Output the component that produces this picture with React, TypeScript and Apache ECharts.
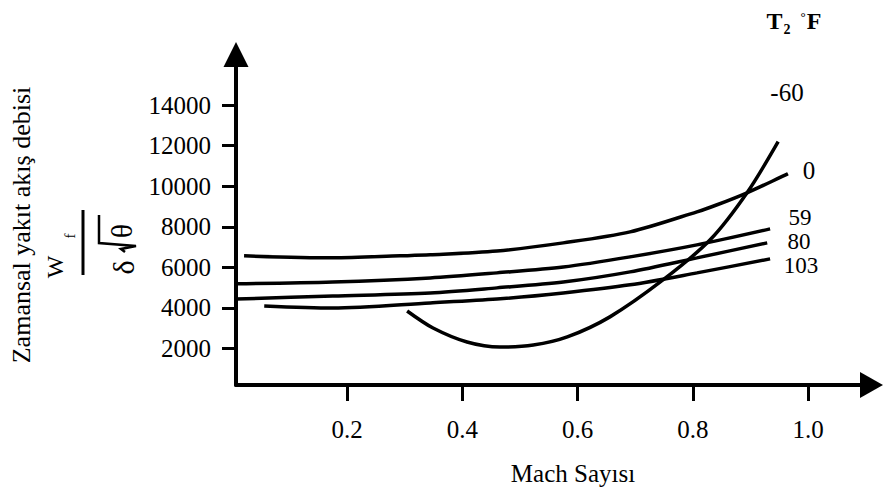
import React, { useEffect, useRef } from "react";
import * as echarts from "echarts";

const FONT = "Liberation Serif, Times New Roman, serif";

const xTicks = [0.2, 0.4, 0.6, 0.8, 1.0];
const yTicks = [2000, 4000, 6000, 8000, 10000, 12000, 14000];

const seriesNames = ["-60", "0", "59", "80", "103"];

const machM60 = [0.304, 0.349, 0.408, 0.465, 0.523, 0.582, 0.656, 0.748, 0.83, 0.894, 0.948];
const flowM60 = [3850, 3010, 2320, 2070, 2170, 2570, 3560, 5380, 7360, 9680, 12200];

const mach0 = [0.021, 0.175, 0.292, 0.344, 0.46, 0.575, 0.691, 0.807, 0.842, 0.894, 0.965];
const flow0 = [6570, 6470, 6570, 6620, 6810, 7210, 7750, 8740, 9090, 9680, 10620];

const mach59 = [0.007, 0.175, 0.344, 0.46, 0.575, 0.691, 0.807, 0.934];
const flow59 = [5190, 5280, 5480, 5730, 6020, 6520, 7110, 7900];

const mach80 = [0.007, 0.175, 0.344, 0.46, 0.575, 0.691, 0.807, 0.929];
const flow80 = [4440, 4590, 4740, 4990, 5280, 5780, 6470, 7210];

const mach103 = [0.056, 0.175, 0.344, 0.46, 0.575, 0.691, 0.807, 0.934];
const flow103 = [4100, 4000, 4250, 4440, 4740, 5140, 5730, 6420];

const curves = [
  [machM60, flowM60],
  [mach0, flow0],
  [mach59, flow59],
  [mach80, flow80],
  [mach103, flow103],
];

const curveLabelPos = [
  [787, 92],
  [809, 170],
  [800, 217],
  [799, 241],
  [801, 265],
];
const curveLabelSize = [25, 25, 23, 23, 23];

function zip(a: number[], b: number[]) {
  return a.map((v, i) => [v, b[i]]);
}

export default function App() {
  const ref = useRef<HTMLDivElement>(null);
  useEffect(() => {
    if (!ref.current) return;
    const chart = echarts.init(ref.current, undefined, { renderer: "svg" });
    const txt = (text: string, x: number, y: number, size: number, extra: any = {}) => {
      const { style, ...rest } = extra;
      return {
        type: "text",
        x,
        y,
        silent: true,
        ...rest,
        style: {
          text,
          fill: "#000",
          fontFamily: FONT,
          fontSize: size,
          align: "center",
          verticalAlign: "middle",
          ...(style || {}),
        },
      };
    };
    const option: any = {
      animation: false,
      backgroundColor: "#fff",
      grid: { left: 236, right: 11.5, top: 54.5, bottom: 108, containLabel: false, outerBoundsMode: "none" },
      xAxis: {
        type: "value",
        min: 0.007,
        max: 1.11,
        axisLine: {
          show: true,
          onZero: false,
          symbol: ["none", "triangle"],
          symbolSize: [26, 23],
          lineStyle: { color: "#000", width: 4 },
        },
        axisTick: {
          show: true,
          inside: false,
          length: 16,
          customValues: xTicks,
          lineStyle: { color: "#000", width: 3 },
        },
        axisLabel: {
          customValues: xTicks,
          formatter: (v: number) => v.toFixed(1),
          color: "#000",
          fontFamily: FONT,
          fontSize: 25,
          lineHeight: 25,
          margin: 32,
        },
        splitLine: { show: false },
      },
      yAxis: {
        type: "value",
        min: 200,
        max: 16500,
        axisLine: {
          show: true,
          onZero: false,
          symbol: ["none", "triangle"],
          symbolSize: [25, 25],
          lineStyle: { color: "#000", width: 4 },
        },
        axisTick: {
          show: true,
          inside: false,
          length: 14,
          customValues: yTicks,
          lineStyle: { color: "#000", width: 3 },
        },
        axisLabel: {
          customValues: yTicks,
          formatter: (v: number) => String(v),
          color: "#000",
          fontFamily: FONT,
          fontSize: 25,
          margin: 25,
        },
        splitLine: { show: false },
      },
      series: curves.map((c, i) => ({
        name: seriesNames[i],
        type: "line",
        data: zip(c[0], c[1]),
        showSymbol: false,
        smooth: 0.3,
        silent: true,
        lineStyle: { color: "#000", width: 3.5 },
      })),
      graphic: [
        txt("Zamansal yakıt akış debisi", 21, 225, 26, { rotation: Math.PI / 2 }),
        txt("Mach Sayısı", 573, 473, 25),
        {
          type: "group",
          x: 83,
          y: 243,
          rotation: Math.PI / 2,
          silent: true,
          children: [
            { type: "line", shape: { x1: -32, y1: 0, x2: 33, y2: 0 }, style: { stroke: "#000", lineWidth: 3 } },
            txt("W", -24, -28, 24),
            txt("f", 7, -13, 15),
            txt("δ", -24.5, 40, 30),
            txt("θ", 12, 38, 30),
            {
              type: "polyline",
              shape: { points: [[-9, 42], [-6, 38], [-3, 53], [0, 16], [28, 16]] },
              style: { stroke: "#000", lineWidth: 2.5, fill: "none" },
            },
          ],
        },
        txt("T", 774.5, 21, 24, { style: { fontWeight: "bold" } }),
        txt("2", 787, 29, 14, { style: { fontWeight: "bold" } }),
        txt("°", 803, 16, 13, { style: { fontWeight: "bold" } }),
        txt("F", 814, 21, 24, { style: { fontWeight: "bold" } }),
        ...seriesNames.map((n, i) =>
          txt(n, curveLabelPos[i][0], curveLabelPos[i][1], curveLabelSize[i])
        ),
      ],
    };
    chart.setOption(option);
    return () => chart.dispose();
  }, []);
  return (
    <div
      ref={ref}
      style={{ position: "fixed", left: 0, top: 0, width: 883, height: 493, background: "#fff" }}
    />
  );
}
